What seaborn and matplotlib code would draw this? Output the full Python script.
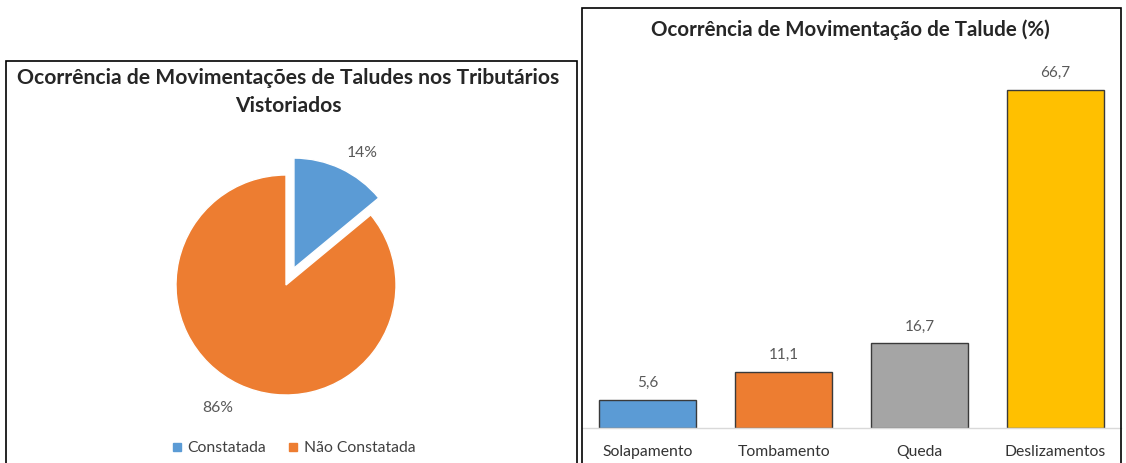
import numpy as np
import pandas as pd
import matplotlib.pyplot as plt
import seaborn as sns
from matplotlib.patches import Rectangle
from matplotlib.lines import Line2D

# pie data
pie_labels = ["Constatada", "Não Constatada"]
pie_values = [14, 86]
pie_colors = ["#5B9BD5", "#ED7D31"]

# bar data
categories = ["Solapamento", "Tombamento", "Queda", "Deslizamentos"]
percent = [5.6, 11.1, 16.7, 66.7]
bar_colors = ["#5B9BD5", "#ED7D31", "#A5A5A5", "#FFC000"]

sns.set_style("white")
plt.rcParams["font.family"] = ["Lato", "DejaVu Sans"]

W, H = 1126, 463
fig = plt.figure(figsize=(W / 100, H / 100), dpi=100)

def px_axes(x0, y0, x1, y1):
    # pixel box (top-left origin) -> figure axes
    return fig.add_axes([x0 / W, 1 - y1 / H, (x1 - x0) / W, (y1 - y0) / H])

# ---- frames
fig.patches.append(Rectangle((6 / W, -0.1), (577 - 6) / W, 1 - 61 / H + 0.1,
                             transform=fig.transFigure, fill=False, lw=1.2, ec="black"))
fig.patches.append(Rectangle((582 / W, -0.1), (1121 - 582) / W, 1 - 8 / H + 0.1,
                             transform=fig.transFigure, fill=False, lw=1.2, ec="black"))

# ---- pie
cx, cy, r = 286, 285, 110
ax1 = px_axes(cx - 1.5 * r, cy - 1.5 * r, cx + 1.5 * r, cy + 1.5 * r)
wedges, texts, autotexts = ax1.pie(pie_values, colors=pie_colors, startangle=90,
                                   counterclock=False, explode=[0.17, 0],
                                   autopct="%1.0f%%", pctdistance=1.24,
                                   textprops=dict(color="#595959", fontsize=11.3))
# nudge labels the way Excel placed them
for t, (dx, dy) in zip(autotexts, [(0.09, -0.08), (-0.09, 0.0)]):
    x, y = t.get_position()
    t.set_position((x + dx, y + dy))
ax1.set_xlim(-1.5, 1.5)
ax1.set_ylim(-1.5, 1.5)
ax1.set_aspect("equal")
ax1.axis("off")

handles = [Line2D([], [], marker="s", ls="", color=c, markersize=6) for c in pie_colors]
fig.legend(handles, pie_labels, loc="center", bbox_to_anchor=(293 / W, 1 - 448 / H),
           ncol=2, frameon=False, fontsize=11.3, handlelength=0.8, handletextpad=0.3,
           columnspacing=1.3, labelcolor="#404040")

fig.text(288 / W, 1 - 78 / H, "Ocorrência de Movimentações de Taludes nos Tributários",
         ha="center", va="center", fontsize=15.2, fontweight="bold")
fig.text(288 / W, 1 - 106 / H, "Vistoriados",
         ha="center", va="center", fontsize=15.2, fontweight="bold")

# ---- bars
df = pd.DataFrame({"cat": categories, "val": percent})
ax2 = px_axes(582, 60, 1121, 428)
sns.barplot(data=df, x="cat", y="val", hue="cat", palette=bar_colors, legend=False,
            width=0.715, edgecolor="#3a3a3a", linewidth=1, saturation=1, ax=ax2)
ax2.set_xlim(-0.486, 3.486)
ax2.set_ylim(0, 72.6)
for c in ax2.containers:
    ax2.bar_label(c, fmt=lambda v: f"{v:.1f}".replace(".", ","), padding=7,
                  color="#595959", fontsize=11)
ax2.set_xlabel("")
ax2.set_ylabel("")
ax2.set_yticks([])
ax2.tick_params(axis="x", length=0, pad=12, labelsize=11.3, labelcolor="#333333")
for s in ["top", "left", "right"]:
    ax2.spines[s].set_visible(False)
ax2.spines["bottom"].set_color("#d9d9d9")
ax2.spines["bottom"].set_linewidth(1)
ax2.patch.set_alpha(0)

fig.text(850 / W, 1 - 30 / H, "Ocorrência de Movimentação de Talude (%)",
         ha="center", va="center", fontsize=14.8, fontweight="bold")

fig.savefig("out.png", dpi=100)
